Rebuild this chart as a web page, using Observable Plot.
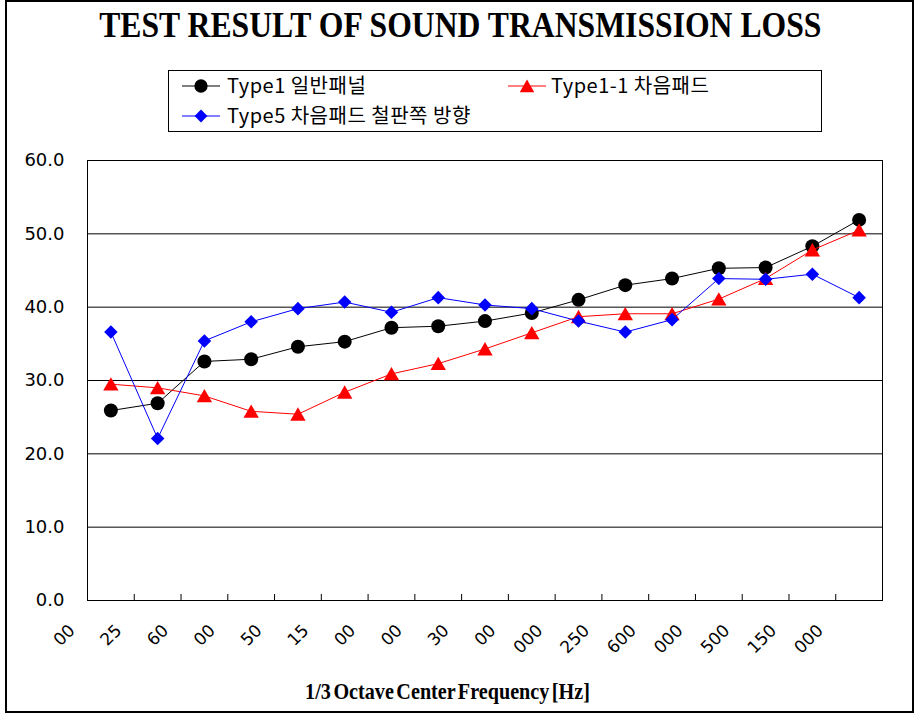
<!DOCTYPE html>
<html>
<head>
<meta charset="utf-8">
<script src="https://cdn.jsdelivr.net/npm/d3@7"></script>
<script src="https://cdn.jsdelivr.net/npm/@observablehq/plot@0.6"></script>
<style>
  body { margin: 0; background: #fff; }
  #wrap { position: relative; width: 920px; height: 720px; overflow: hidden; background: #fff; }
  #wrap > * { position: absolute; }
  #frame { left: 5px; top: 0; width: 909px; height: 713px; box-sizing: border-box; border: 2px solid #000; pointer-events: none; }
  #title { left: 0; top: 7px; width: 920px; text-align: center; font: bold 36px/36px "Liberation Serif", serif; color: #000; white-space: nowrap; }
  #title span, #xtitle span { display: inline-block; transform-origin: 50% 50%; }
  #title span { transform: scaleX(0.88); }
  #xtitle { left: -12px; top: 679px; width: 920px; text-align: center; font: bold 24px/24px "Liberation Serif", serif; color: #000; white-space: nowrap; }
  #xtitle span { transform: scaleX(0.84); word-spacing: -3px; }
  #legendbox { left: 168px; top: 70px; width: 654px; height: 62px; box-sizing: border-box; border: 1.5px solid #000; }
  .lg { font: 20px/20px "Noto Sans CJK KR", sans-serif; letter-spacing: 0.5px; color: #000; white-space: nowrap; }
  #chart { left: 0; top: 0; }
  #legsym { left: 0; top: 0; }
</style>
</head>
<body>
<div id="wrap">
  <div id="chart"></div>
  <div id="title"><span>TEST RESULT OF SOUND TRANSMISSION LOSS</span></div>
  <div id="legendbox"></div>
  <svg id="legsym" width="920" height="160"></svg>
  <div class="lg" id="lg0" style="left:227px;top:75px;"></div>
  <div class="lg" id="lg1" style="left:551px;top:75px;"></div>
  <div class="lg" id="lg2" style="left:227px;top:105px;"></div>
  <div id="xtitle"><span>1/3 Octave Center Frequency [Hz]</span></div>
  <div id="frame"></div>
</div>
<script>
// ---- data ----
const freqs = ["100","125","160","200","250","315","400","500","630","800","1000","1250","1600","2000","2500","3150","4000"];
const seriesNames = ["Type1 일반패널", "Type1-1 차음패드", "Type5 차음패드 철판쪽 방향"];
const type1  = [25.9, 26.9, 32.6, 32.9, 34.6, 35.3, 37.2, 37.4, 38.1, 39.2, 41.0, 43.0, 43.9, 45.3, 45.4, 48.3, 51.9];
const type11 = [29.5, 29.0, 27.9, 25.8, 25.4, 28.4, 30.9, 32.3, 34.3, 36.5, 38.7, 39.1, 39.1, 41.1, 43.9, 47.8, 50.5];
const type5  = [36.6, 22.1, 35.4, 38.0, 39.8, 40.7, 39.3, 41.3, 40.3, 39.8, 38.1, 36.6, 38.3, 43.9, 43.8, 44.5, 41.3];
const yTicks = [0, 10, 20, 30, 40, 50, 60];

const colors = ["#000000", "#ff0000", "#0000ff"];
const symbols = ["circle", "triangle", "diamond2"];
const radii = [7, 5.7, 6.1];
const dys = [0, 2, 0];

const idx = freqs.map((f, i) => i);
const boundaries = idx.slice(1).map(i => i - 0.5);
const allSeries = [type1, type11, type5];

// visible part of the clipped tick labels
const shownLabel = f => f.length >= 4 ? f.slice(-3) : f.slice(-2);

const marks = [
  Plot.ruleY(yTicks.filter(v => v > 0 && v < 60), {stroke: "#000", strokeWidth: 1}),
  Plot.frame({stroke: "#000", strokeWidth: 1}),
  Plot.ruleX(boundaries, {x: d => d, y1: 0, y2: 0, insetTop: -6, stroke: "#000", strokeWidth: 1}),
  Plot.axisY({ticks: yTicks, tickFormat: d3.format(".1f"), tickSize: 0, tickPadding: 23, fontSize: 18, label: null}),
  Plot.text(freqs, {x: (d, i) => i, frameAnchor: "bottom", text: shownLabel, rotate: -45, textAnchor: "end",
                    dx: -35, dy: 31, fontSize: 17, fill: "#000"})
];
allSeries.forEach((vals, s) => {
  marks.push(Plot.line(vals, {x: (d, i) => i, y: d => d, stroke: colors[s], strokeWidth: 1}));
  marks.push(Plot.dot(vals, {x: (d, i) => i, y: d => d, symbol: symbols[s], r: radii[s], fill: colors[s], stroke: "none", dy: dys[s]}));
});

const chart = Plot.plot({
  width: 920,
  height: 720,
  marginLeft: 87,
  marginRight: 38,
  marginTop: 160,
  marginBottom: 120,
  style: {fontFamily: "'DejaVu Sans', sans-serif", fontSize: "18px", background: "transparent", overflow: "visible", color: "#000"},
  x: {type: "linear", domain: [-0.5, freqs.length - 0.5], axis: null},
  y: {domain: [0, 60], axis: null},
  marks
});
document.getElementById("chart").appendChild(chart);

// ---- legend ----
const leg = d3.select("#legsym");
const legPos = [{x: 182, y: 86}, {x: 508, y: 86}, {x: 182, y: 116}];
const d3sym = [d3.symbolCircle, d3.symbolTriangle, d3.symbolDiamond2];
legPos.forEach((p, s) => {
  leg.append("line").attr("x1", p.x).attr("x2", p.x + 38).attr("y1", p.y).attr("y2", p.y)
     .attr("stroke", colors[s]).attr("stroke-width", 1);
  const r = radii[s] * 0.95;
  leg.append("path").attr("d", d3.symbol(d3sym[s], Math.PI * r * r)())
     .attr("transform", `translate(${p.x + 19},${p.y + dys[s]})`).attr("fill", colors[s]);
  document.getElementById("lg" + s).textContent = seriesNames[s];
});
</script>
</body>
</html>
